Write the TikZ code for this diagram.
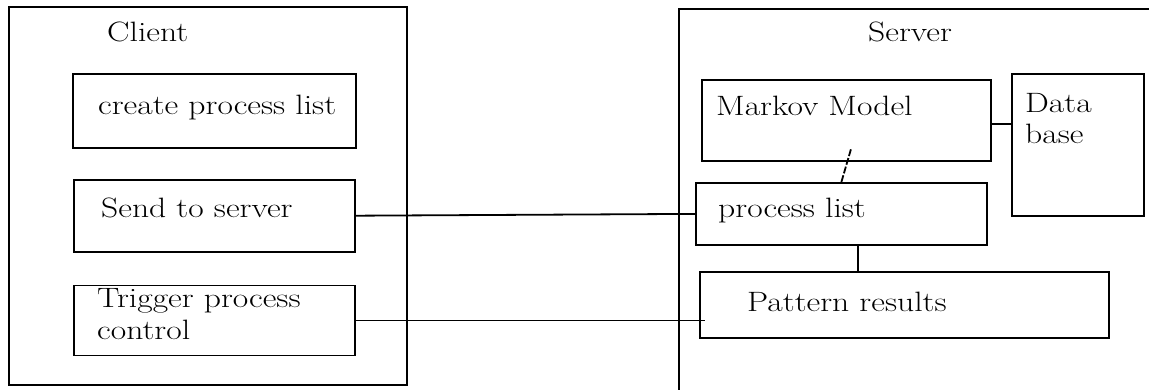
\documentclass[tikz,border=0pt]{standalone}
\usetikzlibrary{positioning, calc}

\newcommand{\widetxt}[1]{\scalebox{1.2}[1]{#1}}
\tikzset{
  box/.style={draw, line width=1.8pt, inner sep=0pt, anchor=north west},
  lbl/.style={inner sep=0pt, anchor=base west, font=\fontsize{28}{31}\selectfont},
  wire/.style={line width=1.8pt},
}

\begin{document}
\begin{tikzpicture}[x=1pt, y=-1pt]
  \useasboundingbox (0,0) rectangle (1149,390);
  \clip (0,0) rectangle (1149,390);
  % the two sides
  \node [box, minimum width=398pt, minimum height=378pt] (client) at (8,6) {};
  \node [box, minimum width=500pt, minimum height=420pt] (server) at (678,8) {};
  % client
  \node [box, minimum width=283pt, minimum height=74pt] (create) at (72,73) {};
  \node [box, minimum width=281pt, minimum height=72pt, below=30pt of create] (send) {};
  \node [box, minimum width=281pt, minimum height=70pt, below=32pt of send] (trigger) {};
  % server
  \node [box, minimum width=289pt, minimum height=81pt] (markov) at (701,79) {};
  \node [box, minimum width=132pt, minimum height=142pt] (database) at (1011,73) {};
  \node [box, minimum width=291pt, minimum height=62pt] (plist) at (695,182) {};
  \node [box, minimum width=409pt, minimum height=66pt] (pattern) at (699,271) {};

  \node [lbl] (clientlbl) at (107,42) {\widetxt{Client}};
  \node [lbl] (createlbl) at (98,115) {\widetxt{create process list}};
  \node [lbl] (sendlbl) at (101,218) {\widetxt{Send to server}};
  \node [lbl] (triggerlbl) at (97,308) {\widetxt{Trigger process}};
  \node [lbl] (controllbl) at (97,339) {\widetxt{control}};
  \node [lbl] (serverlbl) at (868,42) {\widetxt{Server}};
  \node [lbl] (markovlbl) at (716,116) {\widetxt{Markov Model}};
  \node [lbl] (datalbl) at (1025,113) {\widetxt{Data}};
  \node [lbl] (baselbl) at (1025,144) {\widetxt{base}};
  \node [lbl] (plistlbl) at (718,218) {\widetxt{process list}};
  \node [lbl] (patternlbl) at (747,312) {\widetxt{Pattern results}};

  \coordinate (mtail) at (851,149);
  \coordinate (mdb) at ($(markov.east)+(0,4)$);
  \coordinate (pltap) at ($(plist.south)+(16.5,0)$);
  \draw [wire] (send.east) -- (plist.west);
  \draw [wire] (trigger.east) -- ($(trigger.east -| pattern.west)+(6,0)$);
  \draw [wire] (mdb) -- (mdb -| database.west);
  \draw [wire, dash pattern=on 7pt off 2pt] (plist.north) -- (mtail);
  \draw [wire] (pltap) -- (pltap |- pattern.north);
\end{tikzpicture}
\end{document}
